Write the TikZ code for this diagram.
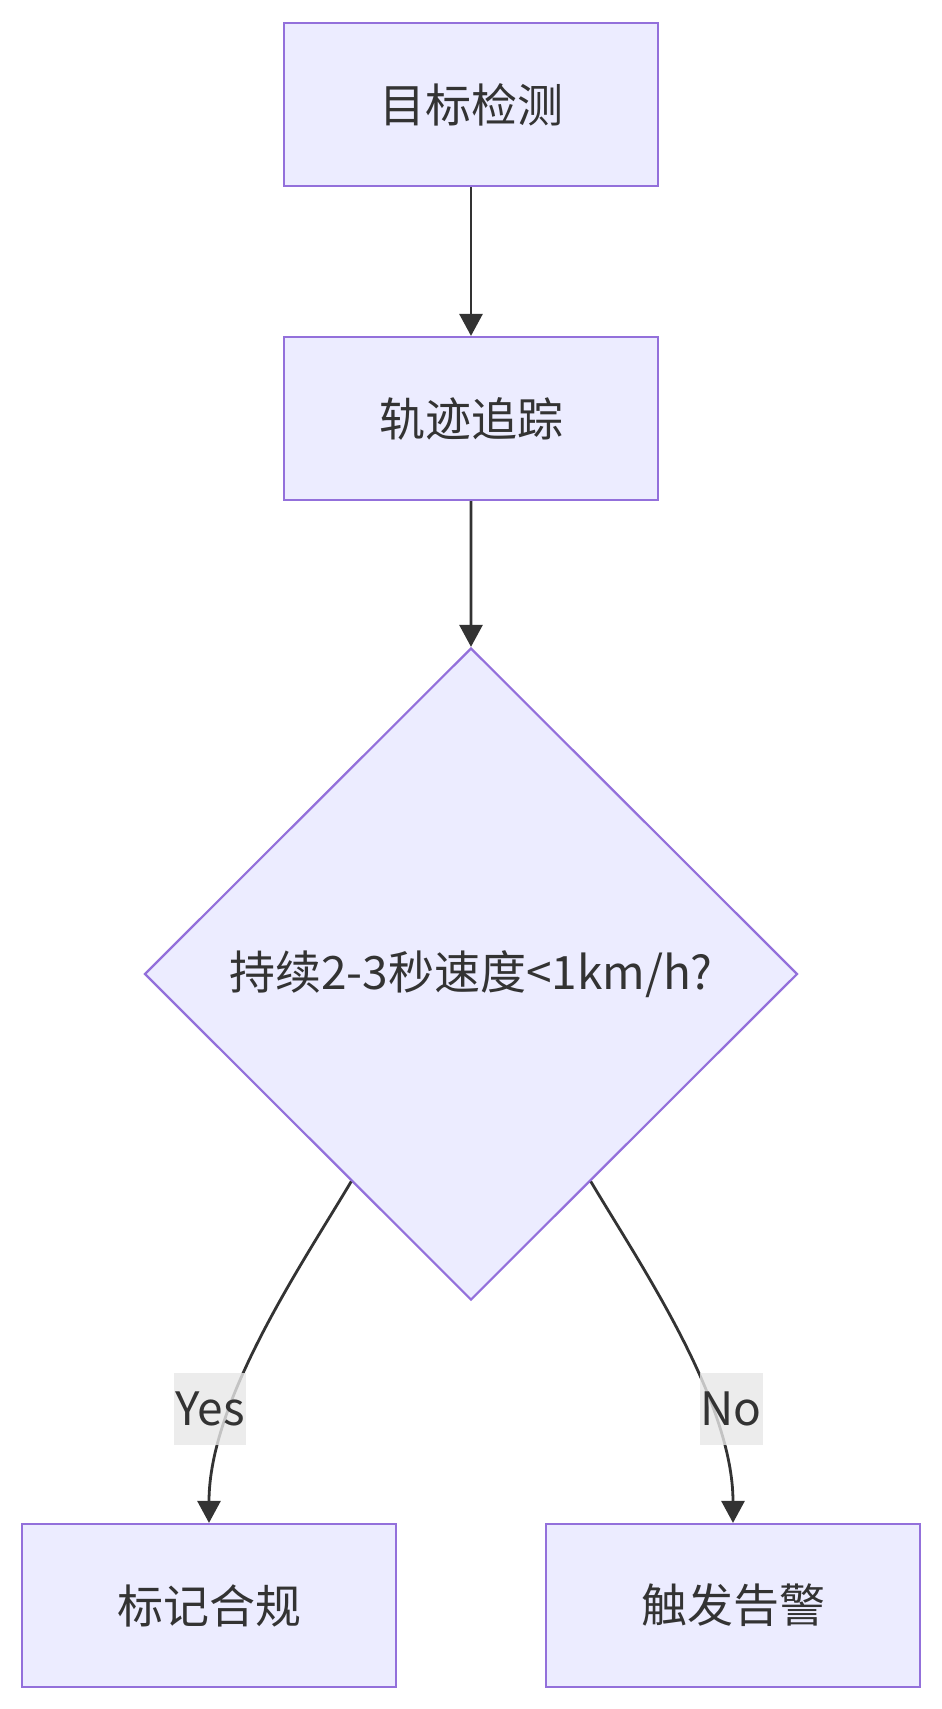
\documentclass[tikz,border=0pt]{standalone}
\usepackage{fontspec}
\usepackage{tikz}
\usepackage{color}
\usetikzlibrary{shapes.geometric,arrows.meta}
\setmainfont{Noto Sans CJK SC}
\definecolor{boxfill}{HTML}{ECECFF}
\definecolor{boxline}{HTML}{9370DB}
\definecolor{inkgray}{HTML}{333333}
\definecolor{lblfill}{HTML}{E8E8E8}

\begin{document}
\begin{tikzpicture}[font=\fontsize{23pt}{28pt}\selectfont, text=inkgray,
box/.style={rectangle, draw=boxline, fill=boxfill, line width=1.1pt, minimum width=187pt, minimum height=81.5pt, inner sep=0pt},
choice/.style={diamond, aspect=1, draw=boxline, fill=boxfill, line width=1.1pt, minimum width=326.5pt, minimum height=326pt, inner sep=0pt},
lbl/.style={fill=lblfill, fill opacity=0.8, text opacity=1, inner xsep=0.5pt, inner ysep=1.5pt, minimum height=36pt},
edge from parent/.style={draw=inkgray, line width=1.4pt, -{Triangle[width=11.5pt,length=11pt]}},
level 1/.style={level distance=157pt}, level 2/.style={level distance=277.75pt},
level 3/.style={level distance=315.75pt, sibling distance=262pt}]
\path[use as bounding box, fill=white] (0,0) rectangle (471pt,-854.5pt);
\node [box] (detect) at (235.5pt,-52.25pt) {目标检测}
	child{ node [box] (track) {轨迹追踪}
		child{ node [choice] (still) {持续2-3秒速度<1km/h?}
			child[edge from parent path={(\tikzparentnode.-120) .. controls +(-25pt,-42pt) and +(0pt,61pt) .. (\tikzchildnode.north)}]{ node [box] (comply) {标记合规}
				edge from parent node[lbl, pos=0.695, xshift=-10.5pt] {Yes}}
			child[edge from parent path={(\tikzparentnode.-60) .. controls +(25pt,-42pt) and +(0pt,61pt) .. (\tikzchildnode.north)}]{ node [box] (alarm) {触发告警}
				edge from parent node[lbl, pos=0.695, xshift=10pt] {No}}}};
\end{tikzpicture}
\end{document}
